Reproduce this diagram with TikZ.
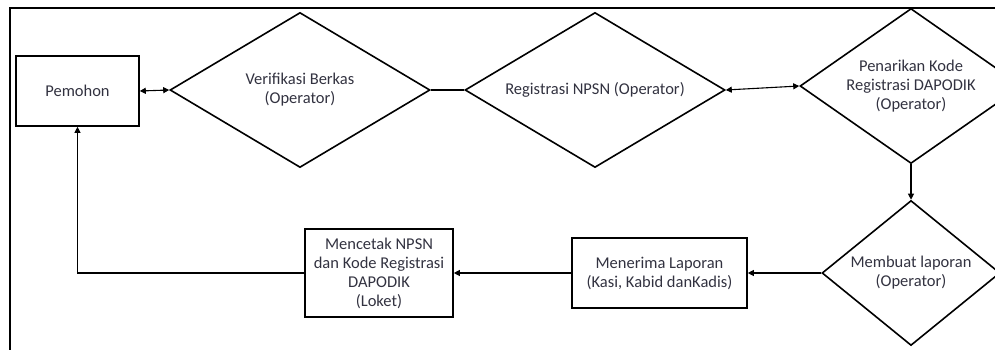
\documentclass[tikz,border=0pt]{standalone}
\usepackage{fontspec}
\setmainfont{Carlito}
\usetikzlibrary{shapes.geometric,arrows.meta}
\definecolor{labeltext}{RGB}{50,50,64}
\begin{document}
\begin{tikzpicture}[x=1pt,y=-1pt,
  font=\fontsize{16.5}{19}\selectfont,
  box/.style={draw,line width=1.6pt,inner sep=0pt,align=center,text=labeltext},
  decision/.style={draw,diamond,aspect=1.4,line width=1.6pt,inner sep=0pt,align=center,text=labeltext},
  link/.style={line width=1.1pt},
  tip/.style={-{Triangle[width=6pt,length=6pt]}},
  bothtips/.style={{Triangle[width=6pt,length=6pt]}-{Triangle[width=6pt,length=6pt]}}]
\useasboundingbox (0,0) rectangle (995,350);
\clip (0,0) rectangle (995,350);
% outer frame
\draw[link] (10,360) -- (10,8) -- (1000,8);

% top row
\node[box,minimum width=123pt,minimum height=70pt] (pemohon) at (77.5,91) {Pemohon};
\node[decision,minimum width=260pt,minimum height=155pt] (verif) at (300,90) {Verifikasi Berkas\\(Operator)};
\node[decision,minimum width=260pt,minimum height=155pt] (npsn) at (595,90) {Registrasi NPSN (Operator)};
\node[decision,minimum width=222pt,minimum height=155pt] (tarik) at (911,86) {Penarikan Kode\\Registrasi DAPODIK\\(Operator)};

% bottom row
\node[decision,minimum width=178pt,minimum height=145pt] (laporan) at (911,273) {Membuat laporan\\(Operator)};
\node[box,minimum width=175pt,minimum height=70pt] (terima) at (659.5,273) {Menerima Laporan\\(Kasi, Kabid danKadis)};
\node[box,minimum width=148pt,minimum height=88pt] (cetak) at (379,273) {Mencetak NPSN\\dan Kode Registrasi\\DAPODIK\\(Loket)};

\draw[link,bothtips] (pemohon.east) -- (verif.west);
\draw[link] (verif.east) -- (npsn.west);
\draw[link,bothtips] (npsn.east) -- (tarik.west);
\draw[link,tip] (tarik.south) -- (laporan.north);
\draw[link,tip] (laporan.west) -- (terima.east);
\draw[link,tip] (terima.west) -- (cetak.east);
\draw[link,tip] (cetak.west) -| (pemohon.south);
\end{tikzpicture}
\end{document}
